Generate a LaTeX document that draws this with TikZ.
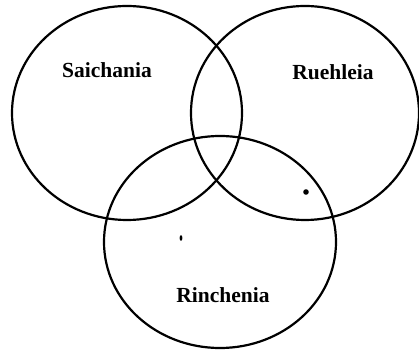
\documentclass[tikz,border=0pt]{standalone}
\usepackage{fontspec}
\setmainfont{Liberation Serif}
\usepackage{tikz}
\usetikzlibrary{positioning}

\tikzset{
  setline/.style={line width=2.2pt},
  setlabel/.style={font=\fontsize{21.5}{26}\selectfont\bfseries}
}

\begin{document}
\begin{tikzpicture}[x=1pt,y=1pt]
            \useasboundingbox (0,0) rectangle (419,350);

            % Sets
            \draw[setline] (127,237) ellipse [x radius=115, y radius=107];
            \draw[setline] (305,237) ellipse [x radius=114, y radius=107];
            \draw[setline] (220,108) ellipse [x radius=116, y radius=106];

            % Names
            \node[setlabel] (saichania) at (107,280) {Saichania};
            \node[setlabel] (ruehleia) at (333,278) {Ruehleia};
            \node[setlabel] (rinchenia) at (223,55) {Rinchenia};

            % Specks
            \fill (306,158) circle (2.8);
            \fill (181,112) ellipse [x radius=1.4, y radius=2.8];
        \end{tikzpicture}
\end{document}
